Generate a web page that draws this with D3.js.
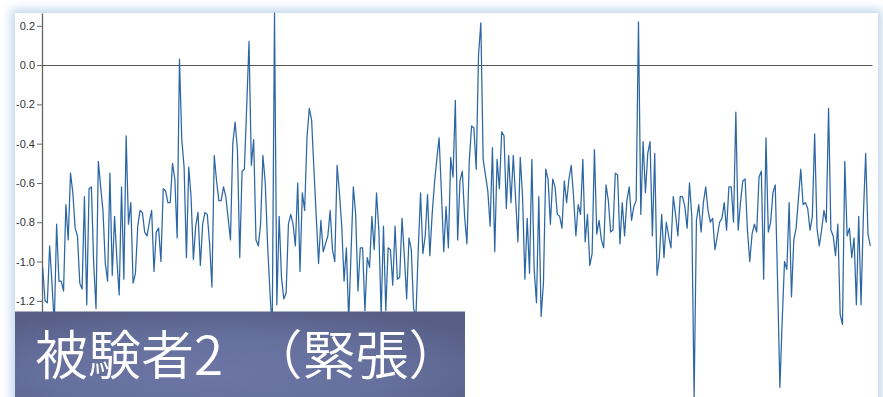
<!DOCTYPE html>
<html>
<head>
<meta charset="utf-8">
<script src="https://cdn.jsdelivr.net/npm/d3@7"></script>
<style>
html, body { margin: 0; padding: 0; background: #fff; overflow: hidden; }
#panel { position: absolute; left: 15px; top: 13px; width: 863px; height: 420px; background: #fff;
         box-shadow: 0 0 9px 4px rgba(183, 210, 236, 0.85); }
#chart { position: absolute; left: 0; top: 0; }
</style>
</head>
<body>
<div id="panel"></div>
<div id="chart"></div>
<script>
// series values (one value per sample, left to right)
var values = [
  -1.03, -1.20, -1.21, -0.92, -1.11, -1.32, -0.81, -1.10, -1.10, -1.15,
  -0.71, -0.89, -0.55, -0.65, -0.83, -0.87, -1.11, -1.14, -0.67, -1.22,
  -0.63, -0.62, -1.01, -1.24, -0.49, -0.62, -0.74, -1.01, -1.10, -0.55,
  -1.07, -0.77, -0.99, -1.17, -0.62, -1.09, -0.36, -0.81, -0.70, -1.11,
  -1.06, -0.82, -0.74, -0.75, -0.85, -0.87, -0.80, -0.74, -1.05, -0.85,
  -0.83, -1.00, -0.63, -0.64, -0.70, -0.70, -0.50, -0.58, -0.88,
  0.03, -0.38, -0.52, -0.98, -0.52, -0.67, -0.99, -0.82, -0.75, -1.02,
  -0.81, -0.75, -0.76, -0.91, -1.13, -0.46, -0.59, -0.69, -0.69, -0.62,
  -0.67, -0.78, -0.89, -0.40, -0.29, -0.43, -0.98, -0.54, -0.53, -0.21,
  0.12, -0.51, -0.38, -0.89, -0.92, -0.81, -0.46, -0.60, -0.91, -1.15,
  -1.35, 0.265, -1.22, -0.77, -1.08, -1.19, -1.16, -0.81, -0.76, -0.81,
  -0.92, -0.60, -1.05, -0.65, -0.74, -0.37, -0.22, -0.28, -0.53, -0.77,
  -1.01, -0.79, -0.95, -0.91, -0.87, -0.74, -0.94, -1.00, -0.51, -0.65,
  -0.82, -1.10, -0.93, -1.30, -0.96, -0.62, -0.76, -1.15, -0.93, -0.93,
  -1.25, -0.98, -1.03, -0.77, -0.94, -0.65, -0.84, -1.27, -0.82, -1.25,
  -0.93, -0.94, -1.12, -0.82, -1.09, -1.08, -0.78, -0.97, -1.19, -0.88,
  -0.94, -1.24, -1.28, -0.94, -0.65, -0.96, -0.87, -0.66, -0.97, -0.76,
  -0.60, -0.48, -0.37, -0.65, -0.95, -0.72, -0.93, -0.47, -0.57,
  -0.18, -0.89, -0.59, -0.54, -0.77, -0.91, -0.49, -0.31, -0.32, -0.53,
  0.05, 0.215, -0.48, -0.56, -0.64, -0.82, -0.42, -0.95, -0.48, -0.63,
  -0.34, -0.36, -0.73, -0.46, -0.70, -0.46, -0.68, -0.90, -0.47, -0.67,
  -1.09, -0.78, -1.06, -0.48, -1.04, -1.21, -0.67, -1.28, -1.11, -0.53,
  -0.58, -0.81, -0.58, -0.62, -0.76, -0.77, -0.83, -0.59, -0.70, -0.58,
  -0.51, -0.67, -0.87, -0.71, -0.76, -0.48, -0.90, -0.76, -1.02, -0.96,
  -0.43, -0.86, -0.79, -0.89, -0.93, -0.61, -0.69, -0.85, -0.84, -0.55,
  -0.56, -0.91, -0.70, -0.87, -0.69, -0.62, -0.79, -0.72, -0.69, 0.22,
  -0.76, -0.39, -0.65, -0.45, -0.39, -0.87, -0.45, -1.07, -0.98, -0.76,
  -0.98, -0.80, -0.87, -0.93, -0.67, -0.76, -0.87, -0.67, -0.67, -0.72,
  -0.83, -0.60, -0.77, -1.69, -0.79, -0.71, -0.85, -0.70, -0.62, -0.74,
  -0.80, -0.78, -0.94, -0.87, -0.80, -0.78, -0.70, -0.84, -0.62, -0.62,
  -0.80, -0.24, -0.84, -0.70, -0.59, -0.58, -0.84, -1.00, -0.86, -0.81,
  -0.85, -0.57, -0.54, -1.09, -0.37, -0.85, -0.80, -0.65, -0.61, -1.10,
  -1.64, -1.30, -1.00, -1.04, -0.70, -1.18, -0.89, -0.83, -0.68, -0.53,
  -0.71, -0.70, -0.73, -0.84, -0.77, -0.35, -0.83, -0.92, -0.84, -0.74,
  -0.80, -0.22, -0.84, -0.87, -0.97, -0.81, -1.27, -1.32, -0.49, -0.87,
  -0.83, -0.98, -0.88, -1.22, -0.77, -1.22, -0.77, -0.45, -0.86, -0.92
];

// y tick values (labels shown with one decimal)
var yTicks = [0.2, 0.0, -0.2, -0.4, -0.6, -0.8, -1.0, -1.2, -1.4, -1.6];

// caption in the box at the bottom left
var caption = "被験者2\u3000（緊張）";

var W = 883, H = 397;

var svg = d3.select("#chart").append("svg")
    .attr("width", W)
    .attr("height", H);

// scales
var x = d3.scaleLinear()
    .domain([0, values.length - 1])
    .range([42.7, 870.3]);

var y = d3.scaleLinear()
    .domain([-1.72, 0.265])
    .range([403, 13]);

// y axis
var yAxis = d3.axisLeft(y)
    .tickValues(yTicks)
    .tickFormat(function(d){ return d.toFixed(1); })
    .tickSizeInner(5)
    .tickSizeOuter(0)
    .tickPadding(2);

var gy = svg.append("g")
    .attr("transform", "translate(42,0)")
    .call(yAxis);

gy.select(".domain").attr("stroke", "#666").attr("stroke-width", 1.3);
gy.selectAll(".tick line").attr("stroke", "#666");
gy.selectAll(".tick text")
    .attr("fill", "#333")
    .style("font-family", "'Liberation Sans', Arial, sans-serif")
    .style("font-size", "11px");

// zero line
svg.append("line")
    .attr("x1", 42)
    .attr("x2", 872.5)
    .attr("y1", Math.round(y(0)) + 0.5)
    .attr("y2", Math.round(y(0)) + 0.5)
    .attr("stroke", "#555")
    .attr("stroke-width", 1);

// the series line
var line = d3.line()
    .x(function(d, i){ return x(i); })
    .y(function(d){ return y(d); });

svg.append("path")
    .datum(values)
    .attr("fill", "none")
    .attr("stroke", "#2c67a4")
    .attr("stroke-width", 1.25)
    .attr("stroke-linejoin", "round")
    .attr("d", line);

// caption box
var defs = svg.append("defs");
var grad = defs.append("radialGradient")
    .attr("id", "capGrad")
    .attr("cx", "45%").attr("cy", "65%").attr("r", "70%");
grad.append("stop").attr("offset", "0%").attr("stop-color", "#6c75a4");
grad.append("stop").attr("offset", "55%").attr("stop-color", "#66709d");
grad.append("stop").attr("offset", "100%").attr("stop-color", "#575f86");

svg.append("rect")
    .attr("x", 15)
    .attr("y", 311.5)
    .attr("width", 450)
    .attr("height", 95)
    .attr("fill", "url(#capGrad)");

svg.append("text")
    .attr("x", 35)
    .attr("y", 375)
    .attr("fill", "#fff")
    .style("font-family", "'Noto Sans CJK JP', 'Noto Sans', sans-serif")
    .style("font-size", "53px")
    .style("font-weight", 350)
    .text(caption);
</script>
</body>
</html>
